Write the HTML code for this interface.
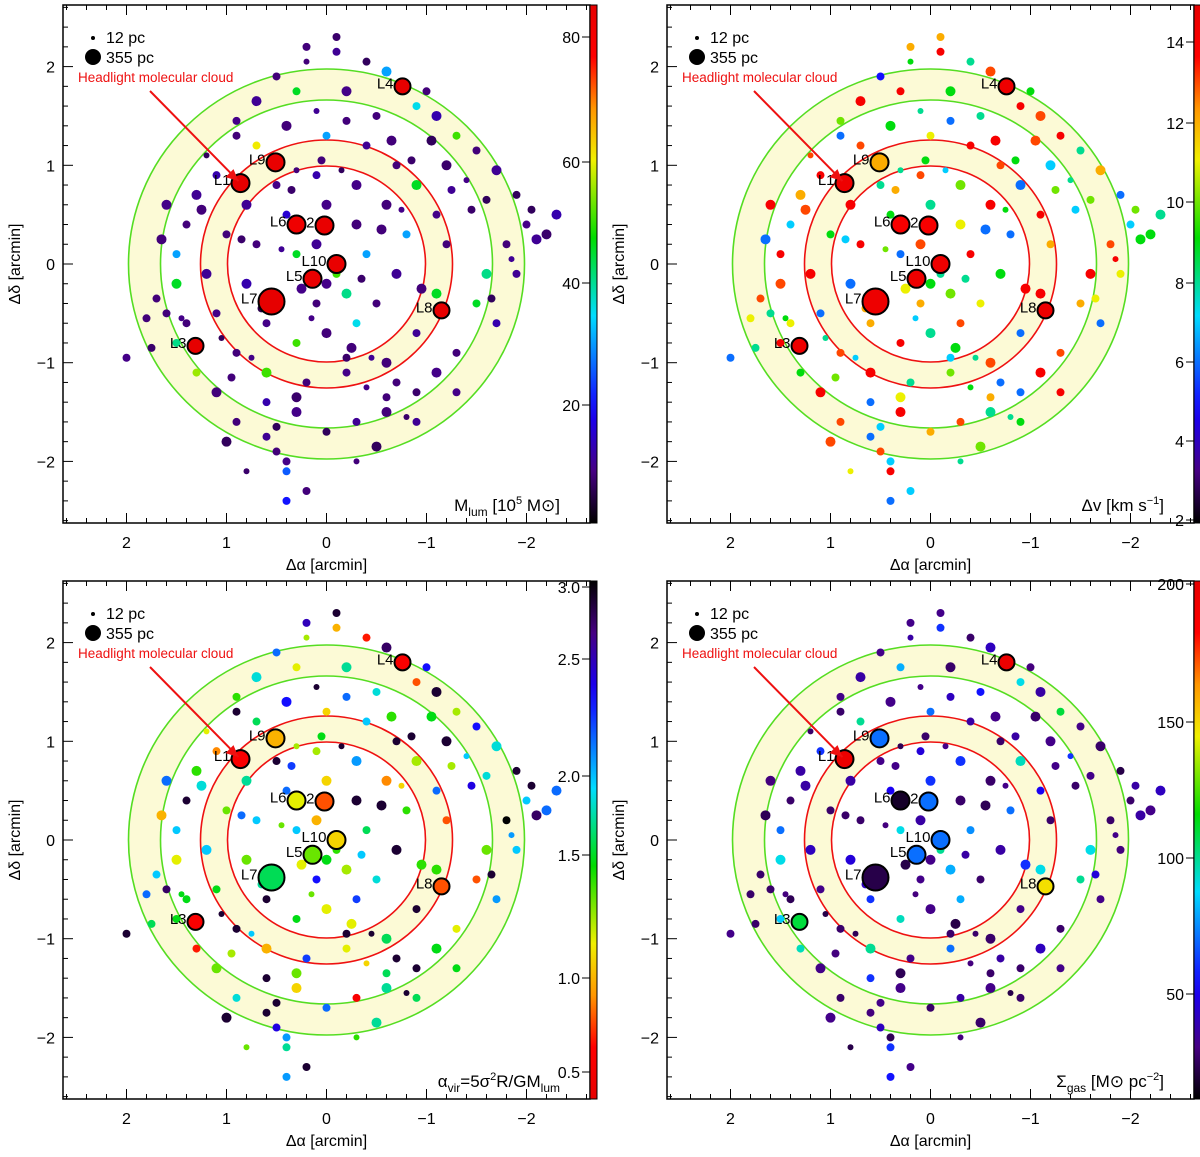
<!DOCTYPE html>
<html><head><meta charset="utf-8"><style>
html,body{margin:0;padding:0;background:#fff}
svg{display:block;font-family:"Liberation Sans","DejaVu Sans",sans-serif}
</style></head><body>
<svg id="fig" width="1200" height="1157" viewBox="0 0 1200 1157" xmlns="http://www.w3.org/2000/svg"></svg>
<script>
// shared cloud positions (arcmin) and marker radii (px)
const cloudX=[0.2,-0.1,-0.4,-0.6,0.5,0.3,-0.2,-0.9,-1.1,-1.3,-1.5,-1.7,-1.9,-2.0,-2.2,-1.8,-1.6,-1.5,-1.7,-1.3,-1.1,-0.9,-0.6,-0.3,0.0,0.3,0.6,0.9,1.1,1.3,1.5,1.6,1.5,1.5,1.4,1.3,1.1,0.7,0.4,0.0,-0.4,-0.7,-0.9,-1.1,-1.2,-1.1,-0.9,-0.6,-0.2,0.2,0.6,0.9,1.1,1.2,1.0,0.8,0.5,0.1,-0.3,-0.6,-0.8,-0.7,-0.5,-0.3,0.0,0.3,0.6,0.8,0.7,0.4,0.0,-0.3,-0.4,-0.2,0.1,0.3,0.1,-0.1,1.8,2.0,0.5,0.4,0.4,0.2,-2.1,-2.3,1.7,-1.3,0.9,-0.5,
0.05,-0.15,0.25,-0.35,0.45,-0.55,0.65,-0.75,0.85,-0.95,1.05,-1.25,1.25,-1.45,1.45,-1.65,1.65,-1.85,1.75,-2.05,0.15,-0.25,0.35,-0.45,0.55,-0.65,0.75,-0.85,0.95,-1.05,0.1,-0.2,0.3,-0.4,0.5,-0.6,0.7,-0.8,0.9,-1.0,1.2,-1.2,1.4,-1.4,0.6,-0.5,0.2,-0.1,0.4,-0.3,1.0,-0.9,0.8,-0.7,1.6,-1.6,0.3,-0.2,0.0,-1.9];
const cloudY=[2.2,2.15,2.05,1.95,1.9,1.75,1.75,1.6,1.5,1.3,1.15,0.95,0.7,0.4,0.3,0.2,-0.1,-0.4,-0.6,-0.9,-1.1,-1.3,-1.5,-1.6,-1.7,-1.5,-1.4,-1.6,-1.3,-1.1,-0.8,-0.5,-0.2,0.1,0.4,0.7,0.9,1.2,1.4,1.3,1.2,1.0,0.8,0.5,0.2,-0.3,-0.7,-1.0,-1.1,-1.2,-1.1,-0.9,-0.5,-0.1,0.3,0.6,0.8,0.9,0.8,0.6,0.3,-0.1,-0.4,-0.6,-0.7,-0.8,-0.6,-0.2,0.2,0.5,0.6,0.4,0.1,-0.3,-0.4,0.1,0.2,-0.1,-0.55,-0.95,-1.9,-2.1,-2.4,-2.3,0.25,0.5,-0.35,-1.3,1.3,1.5,
1.05,0.95,-0.25,-0.15,0.15,0.35,-0.45,0.55,0.25,-0.25,-0.75,0.75,0.55,0.55,-0.55,-0.35,0.25,0.05,-0.85,0.55,-0.55,-0.85,0.75,-0.95,1.05,1.25,-0.95,1.05,-1.15,1.25,1.55,1.45,-1.35,-1.25,-1.65,-1.35,1.65,-1.55,1.45,1.75,1.1,1.0,-0.6,0.85,-1.75,-1.85,2.05,2.3,-2.0,-2.0,-1.8,-1.6,-2.1,-1.2,0.6,0.65,0.95,-0.95,-0.2,-0.1];
const cloudR=[4,4,4,5,4,4,5,4,5,4,4,5,4,4,5,4,5,4,4,4,5,4,5,4,4,5,4,4,5,4,4,4,5,4,4,5,4,4,5,4,4,4,5,4,4,5,4,5,4,4,5,4,4,5,4,5,4,4,5,5,4,5,4,4,5,4,4,5,4,4,5,5,4,5,4,4,5,4,4,4,4,4,4,4,5,5,4,4,4,4,
4,3,5,4,3,5,4,3,4,5,3,4,5,4,3,4,5,3,4,4,3,5,4,3,4,5,3,4,4,5,3,4,5,3,4,4,5,3,4,4,3,5,4,3,4,5,3,4,4,3,5,4,3,4,5,4,3,4,5,4];
const valMlum=[8,10,6,30,8,45,9,35,12,50,8,10,6,9,7,8,40,45,12,8,9,7,8,10,6,9,12,8,8,55,40,8,45,30,8,10,12,60,8,30,10,8,45,9,8,45,10,8,9,8,50,8,9,10,8,10,9,12,9,8,30,10,8,35,8,50,9,12,8,15,9,8,30,40,8,45,10,50,8,9,8,25,20,8,10,12,8,9,8,8,
8,6,9,7,10,8,5,9,7,8,6,10,8,7,9,6,8,10,7,6,9,8,7,10,6,8,9,7,8,6,10,8,7,9,6,8,10,7,9,8,6,7,8,9,10,6,8,7,9,8,6,10,7,8,9,6,8,7,9,10];
const valDv=[12,14,8,13,5,14,9,14,13,14,8,12,6,7,9,13,14,12,6,13,14,6,8,13,12,14,6,13,14,9,14,8,13,14,7,12,14,13,9,11,14,13,6,14,12,14,6,13,10,8,14,13,6,14,9,14,8,13,10,14,6,9,11,13,8,14,12,6,14,9,8,11,14,10,12,6,13,8,11,6,13,14,6,7,9,8,13,14,6,8,
9,7,11,8,10,6,12,9,7,14,8,10,13,7,9,11,6,14,8,10,7,9,12,8,11,14,7,9,10,13,8,6,11,9,7,12,14,8,10,9,13,7,11,8,6,10,9,12,7,8,13,9,11,6,14,10,8,7,9,11];
const valAv=[2.6,1.0,0.7,2.8,2.2,1.2,1.8,0.8,2.9,1.3,2.4,1.9,2.9,2.0,2.2,3.0,1.4,0.8,2.1,1.2,1.6,2.9,1.8,0.6,2.2,1.1,2.9,1.9,1.4,0.7,1.6,2.8,1.2,2.0,2.9,1.5,0.9,1.7,2.4,1.1,2.0,2.9,1.3,2.2,0.8,1.5,2.9,1.7,1.2,2.3,1.0,2.9,1.6,2.0,1.4,1.8,2.9,1.3,2.1,0.9,1.5,2.9,1.9,2.3,1.2,1.6,2.9,1.4,2.0,2.2,1.1,2.9,1.7,1.3,2.4,2.0,1.0,1.5,2.2,2.9,2.5,1.8,2.1,2.9,2.8,2.2,2.0,1.6,2.9,1.9,
1.6,2.9,1.2,2.0,1.4,2.9,1.8,1.1,2.2,1.5,2.9,1.3,1.9,2.5,1.6,2.9,1.0,2.1,1.7,2.9,1.4,1.2,2.3,2.9,1.8,1.5,2.0,2.9,1.3,1.6,2.9,2.2,1.4,1.1,2.9,1.7,1.9,2.9,1.5,2.4,1.2,2.9,1.6,2.0,2.9,1.8,1.3,2.9,2.1,1.5,2.9,1.7,1.4,2.9,2.2,1.9,1.3,2.9,1.6,2.0];
const valSg=[30,60,25,40,30,80,25,90,35,110,30,25,20,25,30,25,90,100,30,25,40,25,30,35,25,30,60,25,30,95,85,25,90,70,25,35,60,100,30,70,35,25,95,50,25,90,30,25,70,30,100,25,30,40,25,35,30,45,60,25,70,35,25,80,30,95,60,45,25,50,60,25,75,80,30,90,35,100,25,30,40,60,55,30,35,40,25,30,25,55,
25,30,20,35,28,22,40,30,25,60,20,30,35,25,28,45,22,30,25,35,28,20,30,25,55,30,22,35,28,25,30,40,22,28,30,25,35,20,30,28,25,30,22,60,28,25,35,30,22,28,30,25,20,35,28,30,22,25,30,28];
// labelled sources
const srcName=["L1","L2","L3","L4","L5","L6","L7","L8","L9","L10"];
const srcX=[0.86,0.02,1.31,-0.76,0.14,0.3,0.55,-1.15,0.51,-0.1];
const srcY=[0.82,0.39,-0.83,1.8,-0.15,0.4,-0.38,-0.47,1.03,0.0];
const srcR=[9,9,8,8,9,9,13,8,9,9];
const srcMlum=[85,84,85,85,84,82,85,85,84,84];
const srcDv=[14.5,14,14.5,14.5,14.5,14,14.5,14.5,12,14.5];
const srcAv=[0.6,0.8,0.6,0.6,1.4,1.2,1.7,0.8,1.0,1.1];
const srcSg=[200,70,110,200,70,15,20,150,70,70];
const ticksX=[2,1,0,-1,-2];
const ticksY=[2,1,0,-1,-2];

const NS="http://www.w3.org/2000/svg";
const svg=document.getElementById('fig');
function el(tag,attrs,parent){const e=document.createElementNS(NS,tag);for(const k in attrs)e.setAttribute(k,attrs[k]);(parent||svg).appendChild(e);return e;}
const stops=[[0,[0,0,0]],[0.1,[70,0,130]],[0.22,[20,0,255]],[0.4,[0,220,255]],[0.55,[0,220,0]],[0.7,[240,240,0]],[0.8,[255,150,0]],[0.9,[255,0,0]],[1,[230,0,0]]];
function cmap(f){f=Math.max(0,Math.min(1,f));for(let i=1;i<stops.length;i++){if(f<=stops[i][0]){const a=stops[i-1],b=stops[i];const t=(f-a[0])/(b[0]-a[0]);const c=a[1].map((v,j)=>Math.round(v+(b[1][j]-v)*t));return `rgb(${c})`;}}return 'rgb(230,0,0)';}

const panels=[
 {name:'mlum',x0:63,y0:5,vals:valMlum,src:srcMlum,min:0,max:85,rev:false,label:'M<tspan font-size="12" dy="5">lum</tspan><tspan dy="-5"> [10</tspan><tspan font-size="11" dy="-7">5</tspan><tspan dy="7"> M</tspan><tspan>⊙</tspan><tspan>]</tspan>',
  cb:[[80,37],[60,162],[40,283],[20,405]]},
 {name:'dv',x0:667,y0:5,vals:valDv,src:srcDv,min:2,max:14.9,rev:false,label:'Δv [km s<tspan font-size="11" dy="-7">−1</tspan><tspan dy="7">]</tspan>',
  cb:[[14,42],[12,123],[10,202],[8,283],[6,362],[4,441],[2,520]]},
 {name:'avir',x0:63,y0:581,vals:valAv,src:srcAv,min:0.4,max:3.0,rev:true,label:'α<tspan font-size="12" dy="5">vir</tspan><tspan dy="-5">=5σ</tspan><tspan font-size="11" dy="-7">2</tspan><tspan dy="7">R/GM</tspan><tspan font-size="12" dy="5">lum</tspan>',
  cb:[['3.0',587],['2.5',659],['2.0',776],['1.5',855],['1.0',978],['0.5',1072]]},
 {name:'sgas',x0:667,y0:581,vals:valSg,src:srcSg,min:9,max:205,rev:false,label:'Σ<tspan font-size="12" dy="5">gas</tspan><tspan dy="-5"> [M</tspan><tspan>⊙</tspan><tspan> pc</tspan><tspan font-size="11" dy="-7">−2</tspan><tspan dy="7">]</tspan>',
  cb:[[200,584],[150,722],[100,858],[50,994]]}
];
const W=527,H=518,S=98.7;
panels.forEach((p,pi)=>{
  const g=el('g',{});
  
  
  const cx=p.x0+263.5, cy=p.y0+259;
  const sx=a=>cx-a*100, sy=d=>cy-d*S;
  const frac=v=>{let f=(v-p.min)/(p.max-p.min);return p.rev?1-f:f;};
  const ring=el('path',{d:`M${cx-198},${cy}a198,195 0 1,0 396,0a198,195 0 1,0 -396,0M${cx-166},${cy}a166,164 0 1,1 332,0a166,164 0 1,1 -332,0Z`,fill:'#fcfad6','fill-rule':'evenodd'},g);
  
  const ring2=el('path',{d:`M${cx-126},${cy}a126,124 0 1,0 252,0a126,124 0 1,0 -252,0M${cx-99},${cy}a99,98 0 1,1 198,0a99,98 0 1,1 -198,0Z`,fill:'#fcfad6','fill-rule':'evenodd'},g);
  
  [[198,195,'#55dd22'],[166,164,'#55dd22'],[126,124,'#ee1111'],[99,98,'#ee1111']].forEach(r=>{
    const c=el('ellipse',{cx,cy,rx:r[0],ry:r[1],fill:'none',stroke:r[2],'stroke-width':1.6},g);
    
  });
  cloudX.forEach((x,i)=>{
    const c=el('circle',{cx:sx(x),cy:sy(cloudY[i]),r:cloudR[i],fill:cmap(frac(p.vals[i]))},g);
    
  });
  srcX.forEach((x,i)=>{
    const c=el('circle',{cx:sx(x),cy:sy(srcY[i]),r:srcR[i],fill:cmap(frac(p.src[i])),stroke:'#000','stroke-width':2},g);
    
    const t=el('text',{x:sx(x)-srcR[i]-1,y:sy(srcY[i])+2,'font-size':15,'text-anchor':'end',fill:'#000'},g);
    t.textContent=srcName[i];
    
  });
  const d1=el('circle',{cx:p.x0+30,cy:p.y0+33,r:2,fill:'#000'},g);
  const t1=el('text',{x:p.x0+43,y:p.y0+38,'font-size':16},g);t1.textContent='12 pc';
  const d2=el('circle',{cx:p.x0+30,cy:p.y0+52,r:8,fill:'#000'},g);
  const t2=el('text',{x:p.x0+43,y:p.y0+58,'font-size':16},g);t2.textContent='355 pc';
  const hl=el('text',{x:p.x0+15,y:p.y0+77,'font-size':13.5,fill:'#ee1111'},g);hl.textContent='Headlight molecular cloud';
  const ar=el('line',{x1:p.x0+87,y1:p.y0+86,x2:sx(0.88),y2:sy(0.84),stroke:'#ee1111','stroke-width':2},g);
  const ax=sx(0.88),ay=sy(0.84);
  const ah=el('polygon',{points:`${ax},${ay} ${ax-13},${ay-4} ${ax-5},${ay-12}`,fill:'#ee1111'},g);
  const fr=el('rect',{x:p.x0,y:p.y0,width:W,height:H,fill:'none',stroke:'#000','stroke-width':1.5},g);
  for(let v=-2.6;v<=2.61;v+=0.2){const X=sx(v),big=Math.abs(v-Math.round(v))<0.01;
    el('line',{x1:X,y1:p.y0+H,x2:X,y2:p.y0+H-(big?10:5),stroke:'#000'},g);el('line',{x1:X,y1:p.y0,x2:X,y2:p.y0+(big?10:5),stroke:'#000'},g);
    const Y=sy(v);if(Y>p.y0&&Y<p.y0+H){el('line',{x1:p.x0,y1:Y,x2:p.x0+(big?10:5),y2:Y,stroke:'#000'},g);}}
  ticksX.forEach(v=>{const t=el('text',{x:sx(v),y:p.y0+H+25,'font-size':16,'text-anchor':'middle'},g);t.textContent=v<0?'−'+(-v):v;});
  ticksY.forEach(v=>{const t=el('text',{x:p.x0-8,y:sy(v)+6,'font-size':16,'text-anchor':'end'},g);t.textContent=v<0?'−'+(-v):v;});
  const xt=el('text',{x:cx,y:p.y0+H+47,'font-size':16,'text-anchor':'middle'},g);xt.textContent='Δα [arcmin]';
  const yt=el('text',{x:0,y:0,'font-size':16,'text-anchor':'middle',transform:`translate(${p.x0-43},${cy}) rotate(-90)`},g);yt.textContent='Δδ [arcmin]';
  const ql=el('text',{x:p.x0+W-30,y:p.y0+H-12,'font-size':17,'text-anchor':'end'},g);ql.innerHTML=p.label;
  const gid='grad'+pi;const defs=el('defs',{},g);const lg=el('linearGradient',{id:gid,x1:0,y1:1,x2:0,y2:0},defs);
  for(let k=0;k<=20;k++){const f=k/20;el('stop',{offset:f,'stop-color':cmap(p.rev?1-f:f)},lg);}
  const cb=el('rect',{x:p.x0+W,y:p.y0,width:7,height:H,fill:`url(#${gid})`,stroke:'#000','stroke-width':1},g);
  p.cb.forEach(c=>{el('line',{x1:p.x0+W-8,y1:c[1],x2:p.x0+W,y2:c[1],stroke:'#000'},g);
    const t=el('text',{x:p.x0+W-10,y:c[1]+6,'font-size':16,'text-anchor':'end'},g);t.textContent=c[0];});
});
</script>
</body></html>
